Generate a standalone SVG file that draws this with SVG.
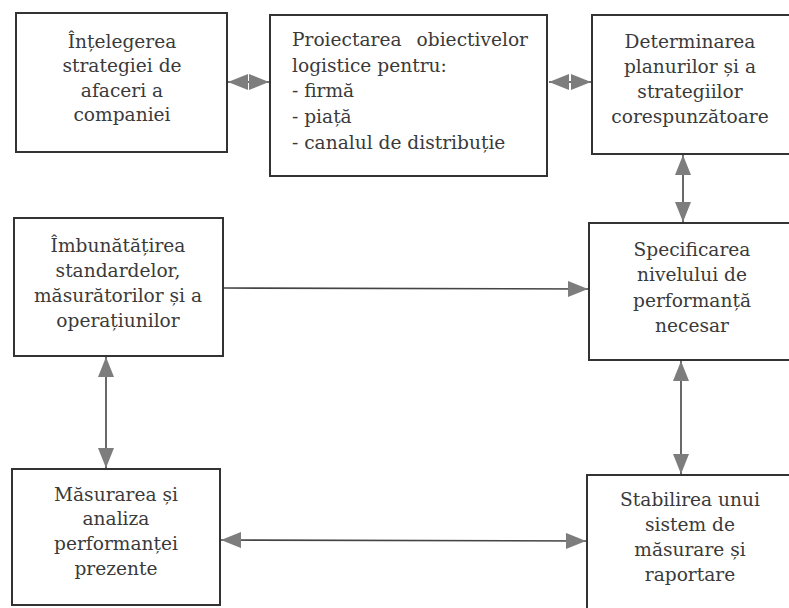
<svg xmlns="http://www.w3.org/2000/svg" width="789" height="608" viewBox="0 0 789 608">
<style>
.box{fill:#fff;stroke:#333;stroke-width:2}
.t{font-family:"DejaVu Serif","Liberation Serif",serif;font-size:18.6px;fill:#3a3a3a}
.c{text-anchor:middle}
.ln{stroke:#444;stroke-width:1.6;fill:none}
</style>
<defs>
<marker id="ah" viewBox="0 0 20 16" refX="20" refY="8" markerWidth="20" markerHeight="16" markerUnits="userSpaceOnUse" orient="auto-start-reverse">
<path d="M0,0 L20,8 L0,16 z" fill="#7d7d7d"/>
</marker>
</defs>
<rect width="789" height="608" fill="#fff"/>
<g id="n1">
<rect class="box" x="16" y="13" width="211" height="139"/>
<text class="t c" x="122"><tspan x="122" y="48">Înțelegerea</tspan><tspan x="122" y="72">strategiei de</tspan><tspan x="122" y="97">afaceri a</tspan><tspan x="122" y="121">companiei</tspan></text>
</g>
<g id="n2">
<rect class="box" x="270" y="15" width="277" height="161"/>
<text class="t" x="292" y="46">Proiectarea</text>
<text class="t" x="528" y="46" text-anchor="end">obiectivelor</text>
<text class="t" x="292" y="72">logistice pentru:</text>
<text class="t" x="292" y="97">- firmă</text>
<text class="t" x="292" y="123">- piață</text>
<text class="t" x="292" y="149">- canalul de distribuție</text>
</g>
<g id="n3">
<rect class="box" x="592" y="15" width="205" height="139"/>
<text class="t c"><tspan x="690" y="48">Determinarea</tspan><tspan x="690" y="73">planurilor și a</tspan><tspan x="690" y="98">strategiilor</tspan><tspan x="690" y="123">corespunzătoare</tspan></text>
</g>
<g id="n4">
<rect class="box" x="14" y="218" width="209" height="138"/>
<text class="t c"><tspan x="118" y="252">Îmbunătățirea</tspan><tspan x="118" y="277">standardelor,</tspan><tspan x="118" y="302">măsurătorilor și a</tspan><tspan x="118" y="327">operațiunilor</tspan></text>
</g>
<g id="n5">
<rect class="box" x="589" y="223" width="208" height="137"/>
<text class="t c"><tspan x="692" y="256">Specificarea</tspan><tspan x="692" y="281">nivelului de</tspan><tspan x="692" y="307">performanță</tspan><tspan x="692" y="332">necesar</tspan></text>
</g>
<g id="n6">
<rect class="box" x="12" y="469" width="208" height="136"/>
<text class="t c"><tspan x="116" y="501">Măsurarea și</tspan><tspan x="116" y="525">analiza</tspan><tspan x="116" y="550">performanței</tspan><tspan x="116" y="575">prezente</tspan></text>
</g>
<g id="n7">
<rect class="box" x="587" y="475" width="210" height="140"/>
<text class="t c"><tspan x="690" y="506">Stabilirea unui</tspan><tspan x="690" y="531">sistem de</tspan><tspan x="690" y="556">măsurare și</tspan><tspan x="690" y="581">raportare</tspan></text>
</g>
<g id="connectors">
<line class="ln" x1="228" y1="82" x2="269" y2="82" marker-start="url(#ah)" marker-end="url(#ah)"/>
<line class="ln" x1="549" y1="82" x2="591" y2="82" marker-start="url(#ah)" marker-end="url(#ah)"/>
<line class="ln" x1="683" y1="155" x2="683" y2="222" marker-start="url(#ah)" marker-end="url(#ah)"/>
<line class="ln" x1="224" y1="288" x2="588" y2="289" marker-end="url(#ah)"/>
<line class="ln" x1="681" y1="361" x2="681" y2="474" marker-start="url(#ah)" marker-end="url(#ah)"/>
<line class="ln" x1="106" y1="357" x2="106" y2="468" marker-start="url(#ah)" marker-end="url(#ah)"/>
<line class="ln" x1="221" y1="540" x2="586" y2="541" marker-start="url(#ah)" marker-end="url(#ah)"/>
</g>
</svg>
